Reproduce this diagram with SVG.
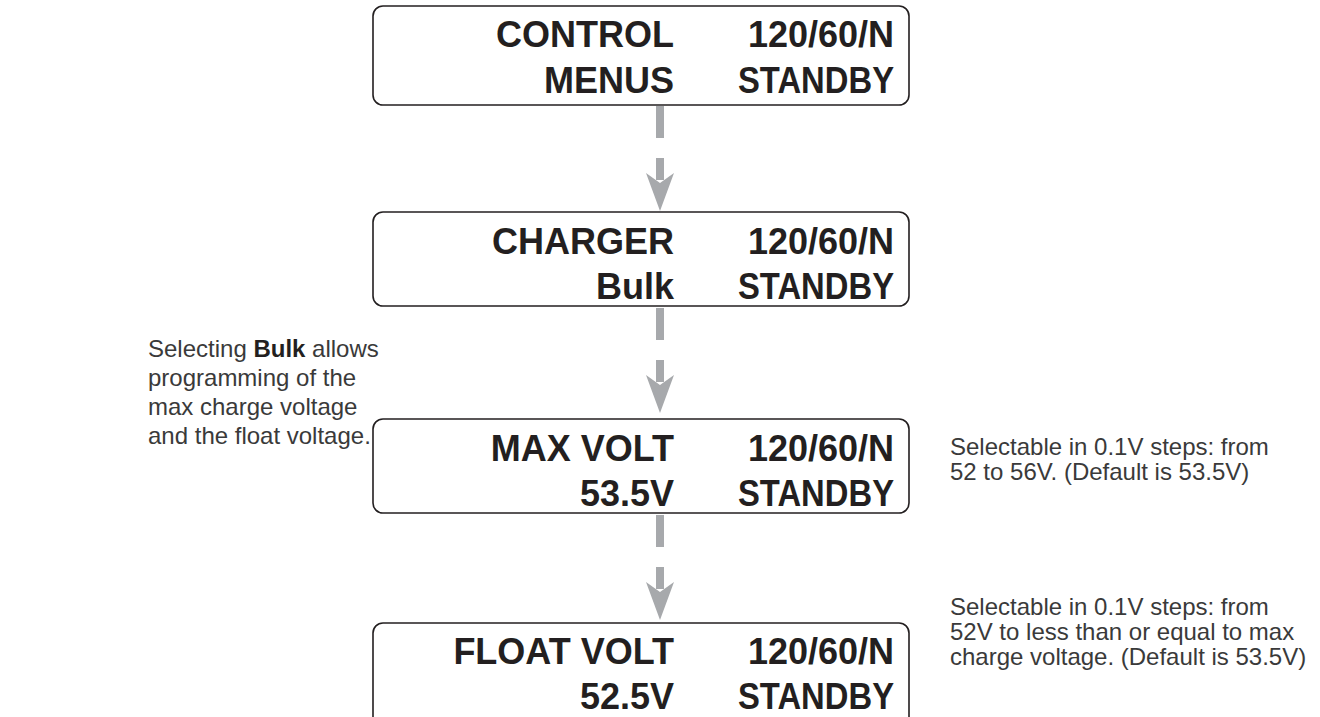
<svg xmlns="http://www.w3.org/2000/svg" width="1320" height="717" viewBox="0 0 1320 717">
<style>
.box{fill:#fff;stroke:#231f20;stroke-width:1.6}
.lcd{font-family:"Liberation Sans",Arial,sans-serif;font-weight:bold;font-size:36px;fill:#231f20;text-anchor:end}
.note{font-family:"Liberation Sans",Arial,sans-serif;fill:#3a3a3a}
.stem{fill:#a7a9ac}
</style>
<defs>
<g id="arrow">
<rect class="stem" x="-4" y="0" width="8" height="32"/>
<rect class="stem" x="-4" y="52" width="8" height="22"/>
<polygon class="stem" points="-14,67 0,77 14,67 0,105"/>
</g>
</defs>
<g id="connectors">
<use href="#arrow" x="660" y="106"/>
<use href="#arrow" x="660" y="308"/>
<use href="#arrow" x="660" y="515"/>
</g>
<g id="node1">
<rect class="box" x="373" y="6" width="536" height="99" rx="10"/>
<text class="lcd" x="674" y="47">CONTROL</text>
<text class="lcd" x="894" y="47">120/60/N</text>
<text class="lcd" x="674" y="93">MENUS</text>
<text class="lcd" x="894" y="93" textLength="156" lengthAdjust="spacingAndGlyphs">STANDBY</text>
</g>
<g id="node2">
<rect class="box" x="373" y="212" width="536" height="94" rx="10"/>
<text class="lcd" x="674" y="254">CHARGER</text>
<text class="lcd" x="894" y="254">120/60/N</text>
<text class="lcd" x="674" y="299">Bulk</text>
<text class="lcd" x="894" y="299" textLength="156" lengthAdjust="spacingAndGlyphs">STANDBY</text>
</g>
<g id="node3">
<rect class="box" x="373" y="419" width="536" height="94" rx="10"/>
<text class="lcd" x="674" y="461">MAX VOLT</text>
<text class="lcd" x="894" y="461">120/60/N</text>
<text class="lcd" x="674" y="506">53.5V</text>
<text class="lcd" x="894" y="506" textLength="156" lengthAdjust="spacingAndGlyphs">STANDBY</text>
</g>
<g id="node4">
<rect class="box" x="373" y="623" width="536" height="110" rx="10"/>
<text class="lcd" x="674" y="664">FLOAT VOLT</text>
<text class="lcd" x="894" y="664">120/60/N</text>
<text class="lcd" x="674" y="709">52.5V</text>
<text class="lcd" x="894" y="709" textLength="156" lengthAdjust="spacingAndGlyphs">STANDBY</text>
</g>
<g id="note-left" class="note" font-size="24">
<text x="148" y="357">Selecting <tspan font-weight="bold" fill="#231f20">Bulk</tspan> allows</text>
<text x="148" y="386">programming of the</text>
<text x="148" y="415">max charge voltage</text>
<text x="148" y="444">and the float voltage.</text>
</g>
<g id="note-right1" class="note" font-size="24">
<text x="950" y="455">Selectable in 0.1V steps: from</text>
<text x="950" y="480">52 to 56V. (Default is 53.5V)</text>
</g>
<g id="note-right2" class="note" font-size="24">
<text x="950" y="615">Selectable in 0.1V steps: from</text>
<text x="950" y="640">52V to less than or equal to max</text>
<text x="950" y="665">charge voltage. (Default is 53.5V)</text>
</g>
</svg>
